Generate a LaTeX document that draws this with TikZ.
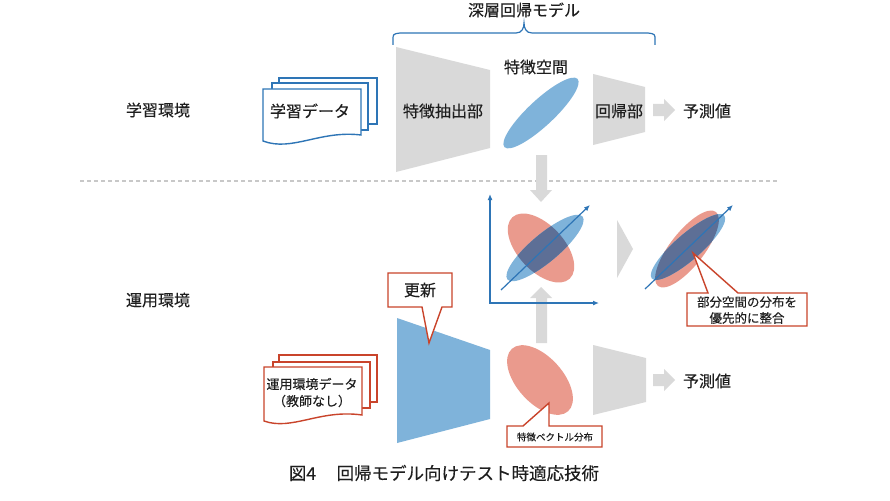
\documentclass[tikz,border=0pt]{standalone}
\usepackage{fontspec}
\newfontfamily\jp[FakeBold=0.2]{Noto Sans CJK JP}
\usetikzlibrary{arrows.meta}
\definecolor{ublue}{HTML}{7FB3DA}
\definecolor{sblue}{HTML}{2E75B6}
\definecolor{ured}{HTML}{EA9A8D}
\definecolor{sred}{HTML}{C9442B}
\definecolor{ovl}{HTML}{5D6F96}
\definecolor{ugray}{HTML}{D9D9D9}
\definecolor{dgray}{HTML}{C8C8C8}
\definecolor{txt}{HTML}{1E1E1E}
\tikzset{
  lbl/.style={font=\jp\fontsize{16}{19}\selectfont, text=txt, inner sep=0pt},
  small/.style={font=\jp\fontsize{12.5}{16}\selectfont, text=txt, inner sep=0pt, align=center},
  tiny/.style={font=\jp\fontsize{9.5}{12}\selectfont, text=txt, inner sep=0pt},
  docb/.style={draw=sblue, fill=white, line width=1.4pt, line join=miter},
  docr/.style={draw=sred, fill=white, line width=1.4pt, line join=miter},
  callout/.style={draw=sred, fill=white, line width=1.4pt, line join=miter},
  grayfill/.style={fill=ugray},
  axisline/.style={draw=sblue, line width=1.2pt},
  tipa/.style={-{Latex[length=6pt,width=5pt]}},
}
\begin{document}
\begin{tikzpicture}[x=1pt,y=-1pt]
\useasboundingbox (0,0) rectangle (890,500);
\fill[white] (0,0) rectangle (890,500);

% ---- top brace & title
\node[lbl] (title) at (524,10) {深層回帰モデル};
\draw[sblue, line width=1.2pt] (393,45) -- (393,40) .. controls (393,34) .. (400,33) -- (516,33)
  .. controls (522,33) and (524,28) .. (524,23)
  .. controls (524,28) and (526,33) .. (532,33) -- (648,33)
  .. controls (655,34) .. (655,40) -- (655,45);

% ---- dashed separator
\coordinate (sepL) at (80,181);
\coordinate (sepR) at (778,181);
\draw[dgray, line width=1.2pt, dash pattern=on 4pt off 3pt] (sepL) -- (sepR);

% ---- environment labels
\node[lbl] (envtrain) at (158,110) {学習環境};
\node[lbl] (envop) at (158,300) {運用環境};

% ---- training data documents
\draw[docb] (279,78) rectangle (377,124);
\draw[docb] (272,83) rectangle (368,130);
\draw[docb] (263,89) -- (361,89) -- (361,135) .. controls (320,130) and (292,152) .. (263,141) -- cycle;
\node[lbl] (traindata) at (310,111) {学習データ};

% ---- top feature extractor
\fill[grayfill] (396,47) -- (490,70) -- (490,148) -- (396,172) -- cycle;
\node[lbl] (fe1) at (443,111) {特徴抽出部};

% ---- feature space
\node[lbl] (fspace) at (536,67) {特徴空間};
\fill[ublue, rotate around={43:(541,113)}] (541,113) ellipse [x radius=50pt, y radius=13pt];

% ---- top regression head
\fill[grayfill] (593,74) -- (645,87) -- (645,132) -- (593,145) -- cycle;
\node[lbl] (reg1) at (619,111) {回帰部};
\fill[grayfill] (653,104) -- (664,104) -- (664,99) -- (675,110) -- (664,121) -- (664,116) -- (653,116) -- cycle;
\node[lbl] (pred1) at (707,111) {予測値};

% ---- vertical gray arrows
\fill[grayfill] (536,155) -- (547,155) -- (547,190) -- (552,190) -- (541,202) -- (530,190) -- (536,190) -- cycle;
\fill[grayfill] (536,343) -- (547,343) -- (547,298) -- (552,298) -- (541,287) -- (530,298) -- (536,298) -- cycle;

% ---- axes with distributions
\coordinate (o) at (490,303);
\coordinate (ytop) at (490,194);
\coordinate (xend) at (599,303);
\fill[ured, rotate around={-47:(541,248)}] (541,248) ellipse [x radius=42pt, y radius=23pt];
\fill[ublue, rotate around={40:(545,248)}] (545,248) ellipse [x radius=49pt, y radius=14pt];
\begin{scope}
  \clip[rotate around={-47:(541,248)}] (541,248) ellipse [x radius=42pt, y radius=23pt];
  \fill[ovl, rotate around={40:(545,248)}] (545,248) ellipse [x radius=49pt, y radius=14pt];
\end{scope}
\draw[axisline, {Latex[length=6pt,width=5pt]}-{Latex[length=6pt,width=5pt]}] (ytop) -- (o) -- (xend);
\coordinate (d1s) at (501,290);
\coordinate (d1e) at (590,205);
\draw[sblue, line width=1.2pt, tipa] (d1s) -- (d1e);

% ---- chevron
\fill[grayfill] (617,220) -- (633,249) -- (617,278) -- cycle;

% ---- aligned distributions
\fill[ured, rotate around={52:(687,249)}] (687,249) ellipse [x radius=47pt, y radius=17pt];
\fill[ublue, rotate around={41:(688,247)}] (688,247) ellipse [x radius=48pt, y radius=13pt];
\begin{scope}
  \clip[rotate around={52:(687,249)}] (687,249) ellipse [x radius=47pt, y radius=17pt];
  \fill[ovl, rotate around={41:(688,247)}] (688,247) ellipse [x radius=48pt, y radius=13pt];
\end{scope}
\coordinate (d2s) at (645,289);
\coordinate (d2e) at (733,205);
\draw[sblue, line width=1.2pt, tipa] (d2s) -- (d2e);

% ---- callout: subspace alignment
\draw[callout] (687,293) -- (708,293) -- (693,253) -- (738,293) -- (807,293) -- (807,326) -- (687,326) -- cycle;
\node[small] (align1) at (747,302) {部分空間の分布を};
\node[small] (align2) at (747,318) {優先的に整合};

% ---- operational data documents
\draw[docr] (279,355) rectangle (377,402);
\draw[docr] (273,362) rectangle (370,408);
\draw[docr] (264,367) -- (362,367) -- (362,415) .. controls (320,409) and (292,431) .. (264,421) -- cycle;
\node[small, font=\jp\fontsize{13}{16}\selectfont] (opdata1) at (312,384) {運用環境データ};
\node[small, font=\jp\fontsize{13}{16}\selectfont] (opdata2) at (312,401) {（教師なし）};

% ---- updated feature extractor
\fill[ublue] (397,318) -- (490,350) -- (490,419) -- (397,443) -- cycle;

% ---- callout: update
\draw[callout] (388,273) -- (452,273) -- (452,307) -- (442,307) -- (429,343) -- (422,307) -- (388,307) -- cycle;
\node[lbl] (upd) at (420,290) {更新};

% ---- feature vector distribution
\fill[ured, rotate around={-48:(540,380)}] (540,380) ellipse [x radius=42pt, y radius=23pt];
\draw[callout] (507,426) -- (523,426) -- (549,403) -- (549,426) -- (602,426) -- (602,447) -- (507,447) -- cycle;
\node[tiny] (fvec) at (555,437) {特徴ベクトル分布};

% ---- bottom regression head
\fill[grayfill] (593,345) -- (646,358) -- (646,402) -- (593,415) -- cycle;
\fill[grayfill] (653,374) -- (664,374) -- (664,369) -- (675,380) -- (664,391) -- (664,386) -- (653,386) -- cycle;
\node[lbl] (pred2) at (707,381) {予測値};

% ---- caption
\node[lbl, font=\jp\fontsize{17.5}{20}\selectfont] (caption) at (444,473) {図4\hspace{3pt}　回帰モデル向けテスト時適応技術};
\end{tikzpicture}
\end{document}
